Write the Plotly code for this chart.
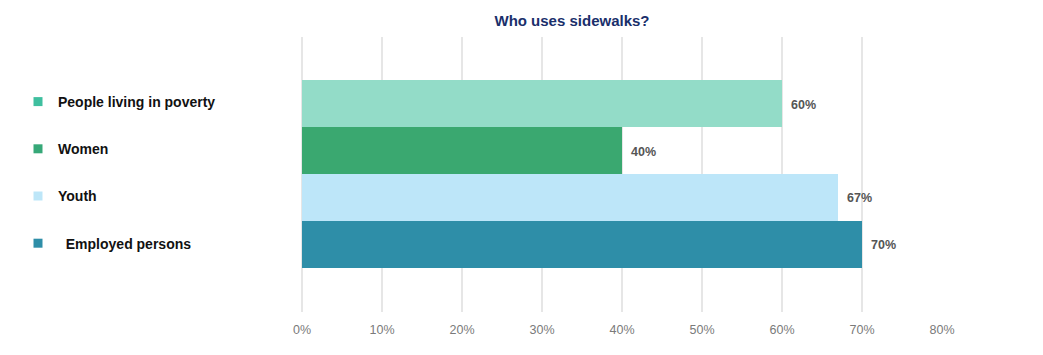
import plotly.graph_objects as go

categories = ["People living in poverty", "Women", "Youth", "Employed persons"]
legend_names = ["People living in poverty", "Women", "Youth", "\u00a0\u00a0Employed persons"]
values = [60, 40, 67, 70]
value_labels = ["60%", "40%", "67%", "70%"]
bar_colors = ["#93dcc8", "#3aa870", "#bde6f9", "#2e8ea8"]
legend_colors = ["#3fbf9f", "#36a878", "#bde6f8", "#2e8ea8"]
x_ticks = [0, 10, 20, 30, 40, 50, 60, 70, 80]
x_tick_labels = ["0%", "10%", "20%", "30%", "40%", "50%", "60%", "70%", "80%"]

positions = list(range(len(categories)))

# page body has an 8px margin, so figure coords = screen coords - 8
L, T, PW, PH = 293, 29, 641, 275

fig = go.Figure()
fig.add_trace(go.Bar(
    x=values, y=positions, orientation="h", width=1,
    marker=dict(color=bar_colors, line=dict(width=0)),
    showlegend=False, hoverinfo="skip",
))
for i, name in enumerate(legend_names):
    fig.add_trace(go.Scatter(
        x=[None], y=[None], mode="markers", name=name,
        marker=dict(symbol="square", size=9, color=legend_colors[i]),
        legendgroup=str(i), showlegend=True,
    ))

for v, p, t in zip(values, positions, value_labels):
    fig.add_annotation(x=v, y=p, text=t, showarrow=False, xanchor="left", yshift=-1,
                       xshift=7, font=dict(family="Liberation Sans", size=12.5, color="#555555", weight="bold"))

fig.update_layout(
    width=1043, height=355,
    margin=dict(l=L, r=1043 - L - PW, t=T, b=355 - T - PH),
    paper_bgcolor="white", plot_bgcolor="white",
    title=dict(text="Who uses sidewalks?", x=564/1043, xanchor="center", y=1-13/355, yanchor="middle",
               font=dict(family="Liberation Sans", size=15, color="#1a2f6b", weight="bold")),
    bargap=0,
    legend=dict(x=(10-L)/PW, xanchor="left", y=1-(78-T)/PH, yanchor="top",
                tracegroupgap=26, traceorder="grouped",
                font=dict(family="Liberation Sans", size=14, color="#111111", weight="bold")),
    xaxis=dict(range=[0, 80], tickvals=x_ticks, ticktext=x_tick_labels,
               showgrid=True, gridcolor="#e6e6e6", gridwidth=2,
               zeroline=True, zerolinecolor="#e6e6e6", zerolinewidth=2,
               showline=False, ticks="", ticklabelstandoff=8,
               tickfont=dict(family="Liberation Sans", size=12.5, color="#7a7a7a")),
    yaxis=dict(range=[4.44, -1.42], showticklabels=False, showgrid=False, zeroline=False, showline=False, ticks=""),
)

fig.write_html("out.html")
